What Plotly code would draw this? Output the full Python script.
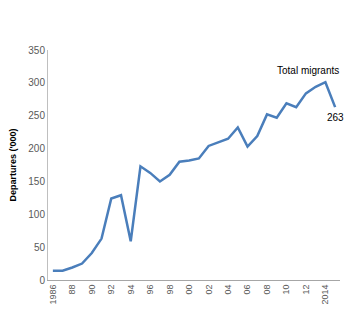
import plotly.graph_objects as go

years = list(range(1986, 2016))
departures = [14, 14, 19, 25, 41, 63, 124, 129, 59, 173, 163, 150, 160, 180, 182, 185,
              204, 210, 215, 232, 203, 219, 252, 247, 269, 263, 284, 294, 301, 263]
tick_years = list(range(1986, 2015, 2))
tick_labels = ["1986", "88", "90", "92", "94", "96", "98", "00", "02", "04", "06", "08", "10", "12", "2014"]
y_ticks = [0, 50, 100, 150, 200, 250, 300, 350]

fig = go.Figure()
fig.add_trace(go.Scatter(x=years, y=departures, mode="lines",
                         line=dict(color="#4A7EBB", width=2.5), hoverinfo="skip"))

fig.add_annotation(x=2012.2, y=301, text="Total migrants", showarrow=False,
                   xanchor="center", yanchor="bottom", yshift=4,
                   font=dict(size=10, color="#000000"))
fig.add_annotation(x=years[-1], y=departures[-1], text=str(departures[-1]), showarrow=False,
                   xanchor="center", yanchor="top", yshift=-3, xshift=0,
                   font=dict(size=10, color="#000000"))

fig.update_layout(
    width=345, height=310,
    margin=dict(l=48, r=5, t=50, b=28),
    paper_bgcolor="white", plot_bgcolor="white",
    showlegend=False,
    font=dict(family="Liberation Sans, Arial, sans-serif", size=10, color="#595959"),
    xaxis=dict(range=[1985.5, 2015.5], tickvals=tick_years, ticktext=tick_labels,
               tickangle=-90, showgrid=False, zeroline=False,
               showline=True, linecolor="#A6A6A6", linewidth=1,
               ticks="", ticklen=3, tickfont=dict(size=9, color="#595959")),
    yaxis=dict(range=[0, 350], tickvals=y_ticks, showgrid=False, zeroline=False,
               showline=True, linecolor="#BFBFBF", linewidth=1, ticks="",
               tickfont=dict(size=10, color="#595959"),
               title=dict(text="<b>Departures ('000)</b>", standoff=10,
                          font=dict(size=9, color="#000000"))),
)
fig.write_html("out.html", config={"displayModeBar": False},
               post_script="document.body.style.margin='0';document.body.style.overflow='hidden';")
